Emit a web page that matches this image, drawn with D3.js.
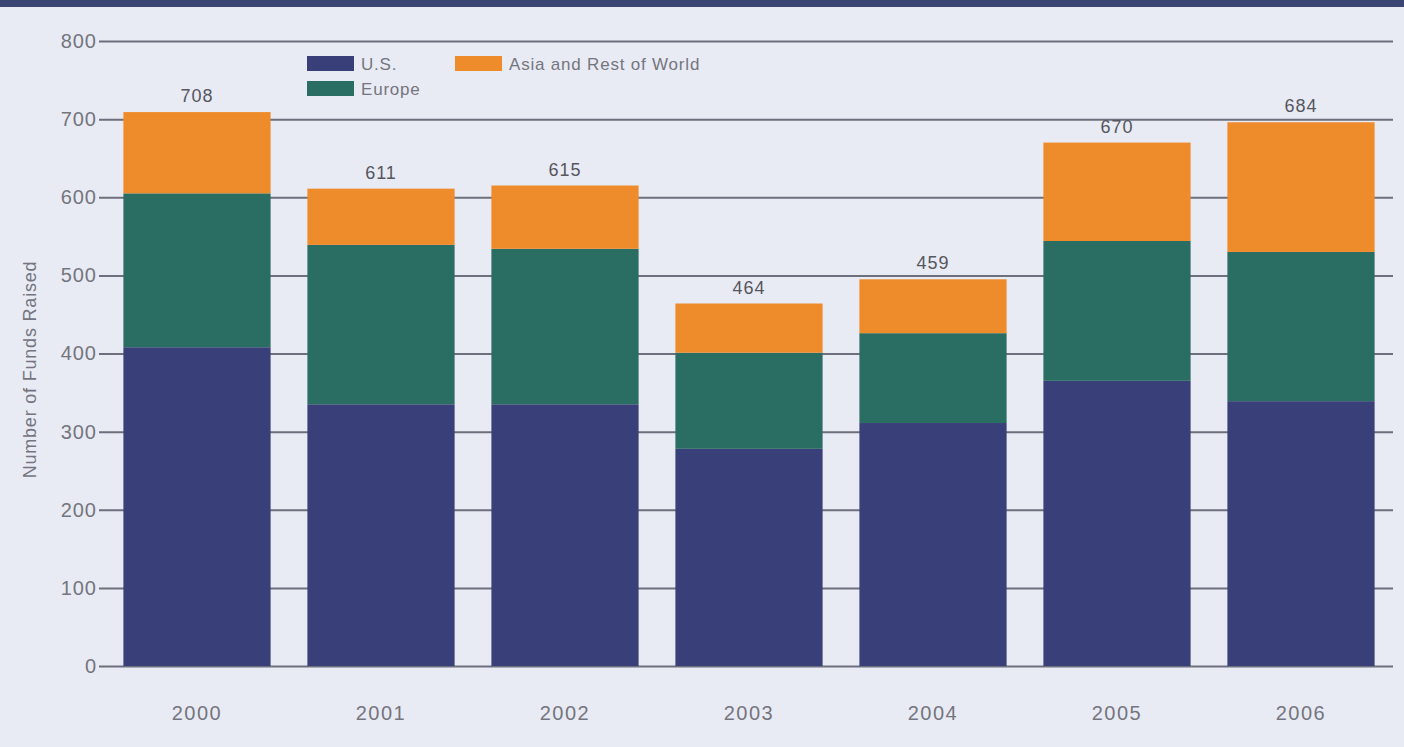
<!DOCTYPE html>
<html>
<head>
<meta charset="utf-8">
<script src="https://cdn.jsdelivr.net/npm/d3@7"></script>
<style>
  html, body { margin: 0; padding: 0; background: #e9ebf4; }
  svg { display: block; }
</style>
</head>
<body>
<svg id="chart" width="1404" height="747"></svg>
<script>
const years = ["2000", "2001", "2002", "2003", "2004", "2005", "2006"];
const usValues = [408, 335, 335, 278, 311, 365, 339];
const europeValues = [197, 204, 199, 123, 115, 179, 191];
const asiaValues = [104, 72, 81, 63, 69, 126, 166];
const totalLabels = ["708", "611", "615", "464", "459", "670", "684"];
const seriesNames = ["U.S.", "Europe", "Asia and Rest of World"];
const seriesColors = ["#383f79", "#2a6d62", "#ee8b2b"];
const yTicks = [0, 100, 200, 300, 400, 500, 600, 700, 800];

const svg = d3.select("#chart");
const W = 1404, H = 747;
const margin = { left: 105, right: 11, top: 41, bottom: 81 };

svg.append("rect").attr("x", 0).attr("y", 0).attr("width", W).attr("height", H).attr("fill", "#e9ebf4");
svg.append("rect").attr("x", 0).attr("y", 0).attr("width", W).attr("height", 7).attr("fill", "#3a4573");

const x = d3.scaleBand().domain(years).range([margin.left, W - margin.right]).paddingInner(0.2).paddingOuter(0.1);
const y = d3.scaleLinear().domain([0, 800]).range([H - margin.bottom, margin.top]);

const font = "'Liberation Sans', Arial, sans-serif";
const textColor = "#74757e";

// gridlines
const yAxis = d3.axisLeft(y).tickValues(yTicks).tickSize(-(W - margin.right - margin.left)).tickPadding(8);
const gy = svg.append("g").attr("transform", `translate(${margin.left},0)`).call(yAxis);
gy.select(".domain").remove();
gy.selectAll(".tick line").attr("stroke", "#6c6f7c").attr("stroke-width", 2).attr("x1", -6);
gy.selectAll(".tick text").attr("fill", textColor).attr("font-family", font).attr("font-size", 20)
  .attr("letter-spacing", 1);

// stacked data
const data = years.map((yr, i) => ({ year: yr, us: usValues[i], europe: europeValues[i], asia: asiaValues[i] }));
const stack = d3.stack().keys(["us", "europe", "asia"]);
const layers = stack(data);

svg.append("g").selectAll("g").data(layers).join("g")
  .attr("fill", (d, i) => seriesColors[i])
  .selectAll("rect").data(d => d).join("rect")
  .attr("x", d => x(d.data.year))
  .attr("width", x.bandwidth())
  .attr("y", d => y(d[1]))
  .attr("height", d => y(d[0]) - y(d[1]));

// total labels
svg.append("g").selectAll("text").data(data).join("text")
  .attr("x", d => x(d.year) + x.bandwidth() / 2)
  .attr("y", d => y(d.us + d.europe + d.asia) - 10)
  .attr("text-anchor", "middle")
  .attr("fill", "#55565e")
  .attr("font-family", font)
  .attr("font-size", 18)
  .attr("letter-spacing", 1)
  .text((d, i) => totalLabels[i]);

// x axis labels
const xAxis = d3.axisBottom(x).tickSize(0).tickPadding(40);
const gx = svg.append("g").attr("transform", `translate(0,${H - margin.bottom})`).call(xAxis);
gx.select(".domain").remove();
gx.selectAll(".tick text").attr("fill", textColor).attr("font-family", font).attr("font-size", 20)
  .attr("letter-spacing", 1.5);

// y axis title
svg.append("text")
  .attr("transform", `translate(36,${(margin.top + H - margin.bottom) / 2 + 16}) rotate(-90)`)
  .attr("text-anchor", "middle")
  .attr("fill", textColor)
  .attr("font-family", font)
  .attr("font-size", 18)
  .attr("letter-spacing", 0.8)
  .text("Number of Funds Raised");

// legend
const legendPos = [[307, 56], [307, 81], [455, 56]];
const lg = svg.append("g");
seriesNames.forEach((name, i) => {
  const [lx, ly] = legendPos[i];
  lg.append("rect").attr("x", lx).attr("y", ly).attr("width", 47).attr("height", 15).attr("fill", seriesColors[i]);
  lg.append("text").attr("x", lx + 54).attr("y", ly + 14)
    .attr("fill", textColor).attr("font-family", font).attr("font-size", 17)
    .attr("letter-spacing", 0.8).text(name);
});
</script>
</body>
</html>
